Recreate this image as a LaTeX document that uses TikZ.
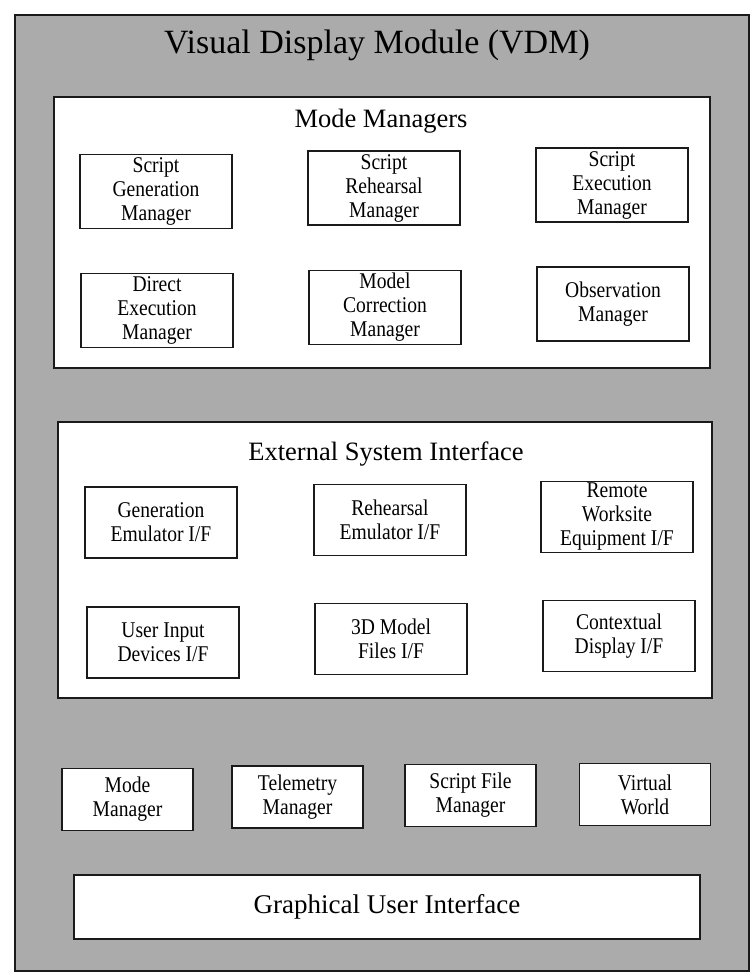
\documentclass[tikz,border=0pt]{standalone}
\usepackage{fontspec}
\setmainfont{Liberation Serif}
\newfontfamily\narrowserif[FakeStretch=0.87]{Liberation Serif}
\usepackage{xcolor}
\usetikzlibrary{positioning}
\definecolor{vdmgray}{HTML}{ABABAB}
\definecolor{inkc}{HTML}{1A1A1A}
\tikzset{
  frame/.style={draw=inkc,line width=1.6pt,fill=vdmgray,inner sep=0pt},
  panel/.style={draw=inkc,line width=1.2pt,fill=white,inner sep=0pt},
  unit/.style={draw=inkc,line width=1.2pt,fill=white,align=center,inner sep=0pt,
    minimum width=152pt,minimum height=73pt,font=\narrowserif\fontsize{22.5}{24}\selectfont},
  tool/.style={unit,minimum width=131pt,minimum height=62pt},
  bigtitle/.style={font=\fontsize{34}{38}\selectfont,inner sep=0pt},
  paneltitle/.style={font=\fontsize{26.5}{30}\selectfont,inner sep=0pt}
}
\begin{document}
\begin{tikzpicture}[x=1pt,y=-1pt]
\useasboundingbox (0,0) rectangle (752,975);
% outer module
\node[frame,minimum width=734pt,minimum height=956pt] (vdm) at (382,493) {};
\node[bigtitle,anchor=base] (vdmtitle) at (377,53) {Visual Display Module (VDM)};
% mode managers
\node[panel,minimum width=656pt,minimum height=271pt] (modes) at (382,232.5) {};
\node[paneltitle,anchor=base] (modestitle) at (381,127) {Mode Managers};
\foreach \nm/\cx/\cy/\txt in {sgm/156/191.5/{Script\\Generation\\Manager},
  srm/384/188/{Script\\Rehearsal\\Manager},sem/612/185/{Script\\Execution\\Manager},
  dem/157/310.5/{Direct\\Execution\\Manager},mcm/385/307.5/{Model\\Correction\\Manager},
  obm/613/304/{Observation\\Manager}}{
 \node[unit,minimum height=74pt] (\nm) at (\cx,\cy) {\txt};}
% external system interface
\node[panel,minimum width=654pt,minimum height=276pt] (esi) at (385,560) {};
\node[paneltitle,anchor=base] (esititle) at (386,460) {External System Interface};
\foreach \nm/\cx/\cy/\txt in {genif/161/522.5/{Generation\\Emulator I/F},
  rehif/390/520/{Rehearsal\\Emulator I/F},rweif/617/517/{Remote\\Worksite\\Equipment I/F},
  uidif/163/642.5/{User Input\\Devices I/F},modif/391/639/{3D Model\\Files I/F},
  ctxif/619/636/{Contextual\\Display I/F}}{
 \node[unit,minimum height=71pt] (\nm) at (\cx,\cy) {\txt};}
% managers row
\foreach \nm/\cx/\cy/\txt in {modem/127.5/799.5/{Mode\\Manager},
  telem/297.5/797/{Telemetry\\Manager},filem/470.5/795.5/{Script File\\Manager},
  world/645/794.5/{Virtual\\World}}{
 \node[tool] (\nm) at (\cx,\cy) {\txt};}
% gui
\node[panel,minimum width=626pt,minimum height=64pt,font=\fontsize{27}{31}\selectfont] (gui) at (387,907) {Graphical User Interface};
\end{tikzpicture}
\end{document}
